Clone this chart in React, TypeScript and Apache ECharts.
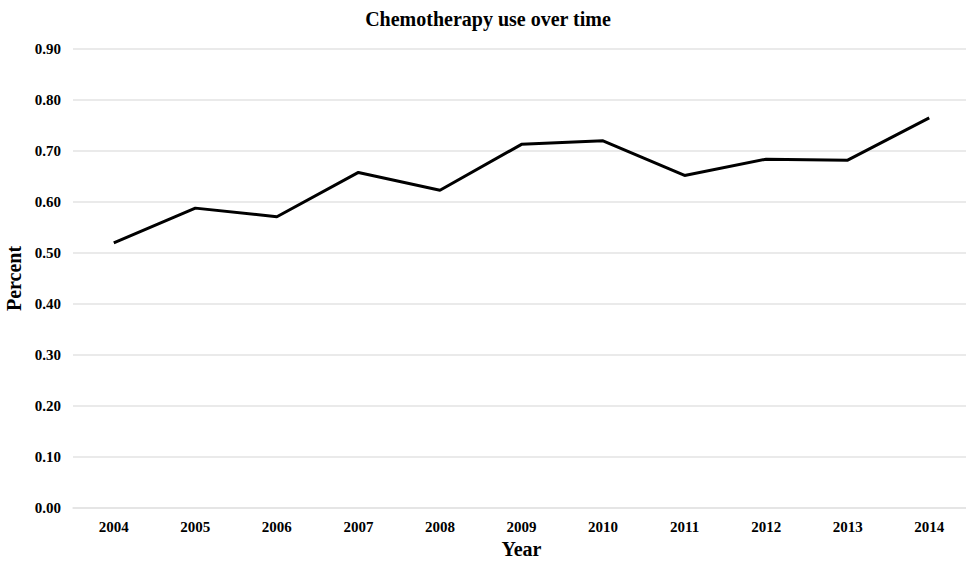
import React, { useEffect, useRef } from "react";
import * as echarts from "echarts";

const years = ["2004", "2005", "2006", "2007", "2008", "2009", "2010", "2011", "2012", "2013", "2014"];
const percentValues = [0.52, 0.588, 0.571, 0.658, 0.623, 0.713, 0.72, 0.652, 0.684, 0.682, 0.765];
const chartTitle = "Chemotherapy use over time";
const xName = "Year";
const yName = "Percent";

const FONT = "'Liberation Serif', 'Times New Roman', serif";

export default function App() {
  const ref = useRef<HTMLDivElement>(null);
  useEffect(() => {
    if (!ref.current) return;
    const chart = echarts.init(ref.current, undefined, { renderer: "svg" });
    chart.setOption({
      animation: false,
      backgroundColor: "#ffffff",
      title: {
        text: chartTitle,
        left: 483,
        textAlign: "center",
        top: 4,
        textStyle: { fontFamily: FONT, fontWeight: "bold", fontSize: 20, color: "#000" },
      },
      grid: { left: 73, width: 897, top: 49, height: 459, outerBoundsMode: "none", containLabel: false },
      xAxis: {
        type: "category",
        data: years,
        boundaryGap: true,
        name: xName,
        nameLocation: "middle",
        nameGap: 31,
        nameTextStyle: { fontFamily: FONT, fontWeight: "bold", fontSize: 20, color: "#000" },
        axisLine: { show: true, lineStyle: { color: "#e3e3e3", width: 1.5 } },
        axisTick: { show: false },
        axisLabel: { fontFamily: FONT, fontWeight: "bold", fontSize: 15, color: "#000", margin: 11 },
      },
      yAxis: {
        type: "value",
        min: 0,
        max: 0.9,
        interval: 0.1,
        name: yName,
        nameLocation: "middle",
        nameGap: 44,
        nameRotate: 90,
        nameTextStyle: { fontFamily: FONT, fontWeight: "bold", fontSize: 20, color: "#000" },
        axisLine: { show: false },
        axisTick: { show: false },
        axisLabel: {
          fontFamily: FONT,
          fontWeight: "bold",
          fontSize: 15,
          color: "#000",
          margin: 12,
          formatter: (v: number) => v.toFixed(2),
        },
        splitLine: { show: true, lineStyle: { color: "#e3e3e3", width: 1.5 } },
      },
      series: [
        {
          type: "line",
          data: percentValues,
          symbol: "none",
          lineStyle: { color: "#000", width: 3 },
        },
      ],
    });
    return () => chart.dispose();
  }, []);
  return <div ref={ref} style={{ position: "absolute", left: 0, top: 0, width: 966, height: 568 }} />;
}
